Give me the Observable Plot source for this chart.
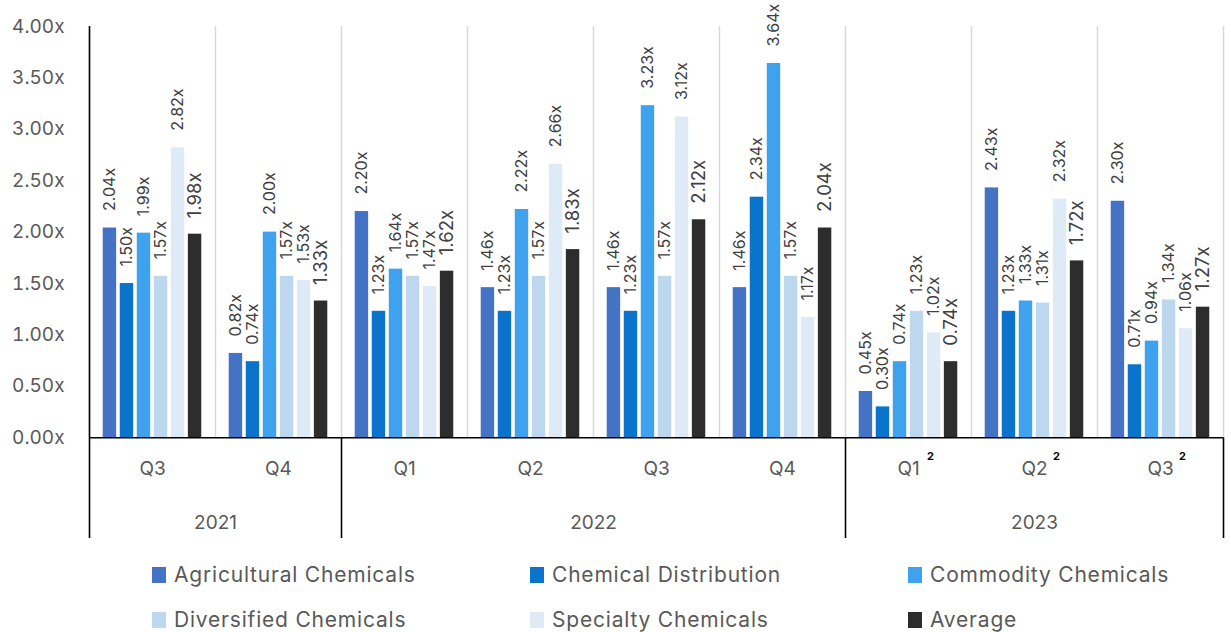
<!DOCTYPE html>
<html><head><meta charset="utf-8">
<script src="https://cdn.jsdelivr.net/npm/d3@7"></script>
<script src="https://cdn.jsdelivr.net/npm/@observablehq/plot@0.6"></script>
<style>
body{margin:0;background:#fff;font-family:Inter, "Open Sans", sans-serif;}
#legend{width:1231px;box-sizing:border-box;padding-left:152px;padding-top:4px;display:grid;grid-template-columns:repeat(3,378px);grid-auto-rows:45px;}
.item{display:flex;align-items:center;font-size:21px;letter-spacing:0.8px;color:#595959;}
.sw{width:14px;height:16px;margin-right:8px;flex:none;}
</style></head><body>
<div id="chart"></div><div id="legend"></div>
<script>
// ---- data ----
const years    = ["2021","2021","2022","2022","2022","2022","2023","2023","2023"];
const quarters = ["Q3","Q4","Q1","Q2","Q3","Q4","Q1","Q2","Q3"];
const notes    = ["","","","","","","2","2","2"];
const seriesNames = ["Agricultural Chemicals","Chemical Distribution","Commodity Chemicals","Diversified Chemicals","Specialty Chemicals","Average"];
const seriesColors = ["#4472C4","#0A73CC","#3FA2EE","#BDD7EE","#DEEAF6","#2D2D2D"];
const agricultural = [2.04, 0.82, 2.20, 1.46, 1.46, 1.46, 0.45, 2.43, 2.30];
const distribution = [1.50, 0.74, 1.23, 1.23, 1.23, 2.34, 0.30, 1.23, 0.71];
const commodity    = [1.99, 2.00, 1.64, 2.22, 3.23, 3.64, 0.74, 1.33, 0.94];
const diversified  = [1.57, 1.57, 1.57, 1.57, 1.57, 1.57, 1.23, 1.31, 1.34];
const specialty    = [2.82, 1.53, 1.47, 2.66, 3.12, 1.17, 1.02, 2.32, 1.06];
const average      = [1.98, 1.33, 1.62, 1.83, 2.12, 2.04, 0.74, 1.72, 1.27];
const yTicks = [0, 0.5, 1, 1.5, 2, 2.5, 3, 3.5, 4];

// ---- build ----
const seriesValues = [agricultural, distribution, commodity, diversified, specialty, average];
const keys = years.map((y, i) => y + " " + quarters[i]);
const rows = [];
seriesValues.forEach((vals, s) => vals.forEach((v, p) => rows.push({period: keys[p], series: seriesNames[s], idx: s, value: v})));

const xDomain = [-0.7, seriesNames.length + 0.7];
const xMid = seriesNames.length / 2;
const yMin = -0.98, yTop = 4;
const qLabelY = -0.30, yearLabelY = -0.83;

const periodRows = keys.map((k, i) => ({key: k, quarter: quarters[i], note: notes[i], year: years[i], first: i === 0 || years[i] !== years[i-1]}));
const lastKey = keys[keys.length - 1];

// year label placement: middle of each year's span of facets
const yearRows = [];
d3.groups(periodRows, d => d.year).forEach(([year, ps]) => {
  const n = ps.length;
  if (n % 2 === 0) yearRows.push({year, key: ps[n/2 - 1].key, x: xDomain[1]});
  else yearRows.push({year, key: ps[(n-1)/2].key, x: xMid});
});

const chart = Plot.plot({
  width: 1231, height: 548,
  marginLeft: 88, marginRight: 7, marginTop: 26, marginBottom: 10,
  style: {fontFamily: "Inter, 'Open Sans', sans-serif", background: "#fff", overflow: "visible"},
  fx: {domain: keys, axis: null, padding: 0},
  x: {domain: xDomain, axis: null},
  y: {domain: [yMin, yTop], ticks: yTicks, tickFormat: d => d.toFixed(2) + "x", tickSize: 0, tickPadding: 25, label: null},
  color: {domain: seriesNames, range: seriesColors},
  marks: [
    Plot.ruleX([xDomain[0]], {y1: 0, y2: yTop, stroke: "#d9d9d9", strokeWidth: 1.5}),
    Plot.ruleX([lastKey], {fx: d => d, x: xDomain[1], y1: 0, y2: yTop, stroke: "#d9d9d9", strokeWidth: 1.5}),
    Plot.rectY(rows, {fx: "period", x1: "idx", x2: d => d.idx + 1, y: "value", fill: "series", insetLeft: 1.8, insetRight: 1.8}),
    Plot.text(rows.filter(d => d.series !== "Average"), {fx: "period", x: d => d.idx + 0.5, y: "value", text: d => d.value.toFixed(2) + "x", rotate: -90, textAnchor: "start", lineAnchor: "middle", dy: -17, fontSize: 16, fill: "#404040"}),
    Plot.text(rows.filter(d => d.series === "Average"), {fx: "period", x: d => d.idx + 0.5, y: "value", text: d => d.value.toFixed(2) + "x", rotate: -90, textAnchor: "start", lineAnchor: "middle", dy: -16, fontSize: 18.5, fill: "#404040"}),
    Plot.ruleY([0], {stroke: "#000", strokeWidth: 1.6}),
    Plot.ruleX(periodRows.filter(d => d.first), {fx: "key", x: () => xDomain[0], y1: d => d.key === keys[0] ? yTop : 0, y2: yMin, stroke: "#000", strokeWidth: 1.6}),
    Plot.ruleX([lastKey], {fx: d => d, x: xDomain[1], y1: 0, y2: yMin, stroke: "#000", strokeWidth: 1.6}),
    Plot.text(periodRows, {fx: "key", x: xMid, y: qLabelY, text: "quarter", fontSize: 19, fill: "#595959"}),
    Plot.text(periodRows.filter(d => d.note), {fx: "key", x: xMid, y: qLabelY, text: "note", dx: 22, dy: -12, fontSize: 11, fontWeight: "bold", fill: "#000"}),
    Plot.text(yearRows, {fx: "key", x: "x", y: yearLabelY, text: "year", fontSize: 19, fill: "#595959"})
  ]
});
// style y tick labels
chart.querySelectorAll("g[aria-label^='y-axis']").forEach(g => { g.setAttribute("font-size", "19"); g.setAttribute("fill", "#595959"); });
chart.querySelectorAll("g[aria-label^='y-axis'] text").forEach(t => { t.setAttribute("fill", "#595959"); t.style.fontSize = "19px"; });
document.getElementById("chart").appendChild(chart);

const legend = document.getElementById("legend");
seriesNames.forEach((name, i) => {
  const it = document.createElement("div"); it.className = "item";
  const sw = document.createElement("span"); sw.className = "sw"; sw.style.background = seriesColors[i];
  it.appendChild(sw); it.appendChild(document.createTextNode(name));
  legend.appendChild(it);
});
</script></body></html>
